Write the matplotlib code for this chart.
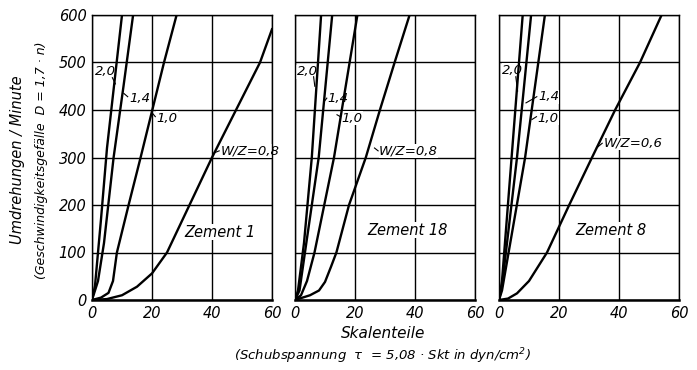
import matplotlib.pyplot as plt
import numpy as np

plt.rcParams['font.family'] = ['DejaVu Sans']
plt.rcParams['font.style'] = 'italic'

# Zement 1
z1_20_x = [0, 1, 3, 5, 7.5, 10]
z1_20_y = [0, 30, 170, 320, 460, 600]
z1_14_x = [0, 2, 4, 7.2, 10.5, 13.7]
z1_14_y = [0, 40, 120, 300, 450, 600]
z1_10_x = [0, 3, 5.5, 7, 8.3, 12.2, 16.2, 20.1, 24, 28.2]
z1_10_y = [0, 5, 15, 40, 100, 200, 300, 400, 500, 600]
z1_08_x = [0, 5, 10, 15, 20, 25, 32.5, 40, 48, 56, 60]
z1_08_y = [0, 2, 10, 28, 56, 100, 200, 300, 400, 500, 570]

# Zement 18
z18_20_x = [0, 1, 3, 5.6, 8.7]
z18_20_y = [0, 20, 120, 300, 600]
z18_14_x = [0, 1.5, 4, 7.9, 12.4]
z18_14_y = [0, 20, 130, 300, 600]
z18_10_x = [0, 2, 4, 6.5, 13, 20.8]
z18_10_y = [0, 10, 40, 100, 300, 600]
z18_08_x = [0, 2, 5, 8, 10, 12, 13.8, 18, 23.6, 28.3, 33.2, 38.2]
z18_08_y = [0, 4, 10, 20, 38, 70, 100, 200, 300, 400, 500, 600]

# Zement 8
z8_20_x = [0, 1, 4.2, 7.9]
z8_20_y = [0, 40, 300, 600]
z8_14_x = [0, 1, 6.0, 10.7]
z8_14_y = [0, 30, 300, 600]
z8_10_x = [0, 1, 8.7, 15.3]
z8_10_y = [0, 20, 300, 600]
z8_06_x = [0, 3, 6, 10, 16, 23.4, 31, 38.7, 47, 54.2]
z8_06_y = [0, 3, 14, 40, 100, 200, 300, 400, 500, 600]

x_ticks = [0, 20, 40, 60]
y_ticks = [0, 100, 200, 300, 400, 500, 600]

panels = [
    {
        'curves': [(z1_20_x, z1_20_y), (z1_14_x, z1_14_y), (z1_10_x, z1_10_y), (z1_08_x, z1_08_y)],
        'labels': [("2,0", 1.0, 480, 6.8, 468, 7.8, 455),
                   ("1,4", 12.3, 425, 11.9, 428, 10.6, 435),
                   ("1,0", 21.5, 383, 21.1, 386, 20.3, 392),
                   ("W/Z=0,8", 42.8, 314, 42.4, 314, 40.8, 310)],
        'name': ("Zement 1", 42.5, 143),
        'left': 92,
    },
    {
        'curves': [(z18_20_x, z18_20_y), (z18_14_x, z18_14_y), (z18_10_x, z18_10_y), (z18_08_x, z18_08_y)],
        'labels': [("2,0", 0.5, 480, 6.2, 470, 6.6, 450),
                   ("1,4", 10.8, 425, 10.6, 425, 10.0, 420),
                   ("1,0", 15.4, 383, 15.1, 386, 14.0, 390),
                   ("W/Z=0,8", 28.0, 314, 27.7, 314, 26.5, 320)],
        'name': ("Zement 18", 37.4, 147),
        'left': 295,
    },
    {
        'curves': [(z8_20_x, z8_20_y), (z8_14_x, z8_14_y), (z8_10_x, z8_10_y), (z8_06_x, z8_06_y)],
        'labels': [("2,0", 1.0, 484, 5.6, 470, 6.2, 440),
                   ("1,4", 13.0, 428, 12.6, 428, 9.0, 415),
                   ("1,0", 12.8, 383, 12.5, 386, 11.0, 380),
                   ("W/Z=0,6", 34.8, 330, 34.4, 330, 32.5, 320)],
        'name': ("Zement 8", 37.4, 147),
        'left': 499,
    },
]

W, H = 697, 370
fig = plt.figure(figsize=(W / 100, H / 100), dpi=100)

for i, p in enumerate(panels):
    ax = fig.add_axes([p['left'] / W, 70 / H, 180 / W, 285 / H])
    ax.set_xlim(0, 60)
    ax.set_ylim(0, 600)
    ax.set_xticks(x_ticks)
    ax.set_yticks(y_ticks)
    ax.grid(True, color='black', linewidth=1.0, zorder=0.5)
    ax.set_axisbelow(True)
    for s in ax.spines.values():
        s.set_linewidth(1.0)
    ax.spines['bottom'].set_linewidth(1.8)
    ax.tick_params(length=0, labelsize=10.5, pad=4)
    for lab in ax.get_xticklabels() + ax.get_yticklabels():
        lab.set_fontstyle('italic')
    if i > 0:
        ax.set_yticklabels([])
    for cx, cy in p['curves']:
        ax.plot(cx, cy, color='black', linewidth=1.7, zorder=3)
    for txt, tx, ty, l0x, l0y, l1x, l1y in p['labels']:
        ax.text(tx, ty, txt, fontsize=9.5, style='italic', ha='left', va='center', zorder=1.5,
                bbox=dict(facecolor='white', edgecolor='none', pad=0.3))
        ax.plot([l0x, l1x], [l0y, l1y], color='black', linewidth=0.8, zorder=3)
    name, nx, ny = p['name']
    ax.text(nx, ny, name, fontsize=10.5, style='italic', ha='center', va='center', zorder=1.5,
            bbox=dict(facecolor='white', edgecolor='none', pad=0.5))

fig.text(18 / W, 1 - 160 / H, "Umdrehungen / Minute", rotation=90, fontsize=10.5,
         style='italic', ha='center', va='center')
fig.text(42 / W, 1 - 160 / H, "(Geschwindigkeitsgefälle  D = 1,7 · n)", rotation=90,
         fontsize=9, style='italic', ha='center', va='center')
fig.text(383 / W, 1 - 333 / H, "Skalenteile", fontsize=11, style='italic',
         ha='center', va='center')
fig.text(383 / W, 1 - 356 / H, "(Schubspannung  τ  = 5,08 · Skt in dyn/cm$^2$)",
         fontsize=9.5, style='italic', ha='center', va='center')

fig.savefig('out.png', dpi=100, facecolor='white')
